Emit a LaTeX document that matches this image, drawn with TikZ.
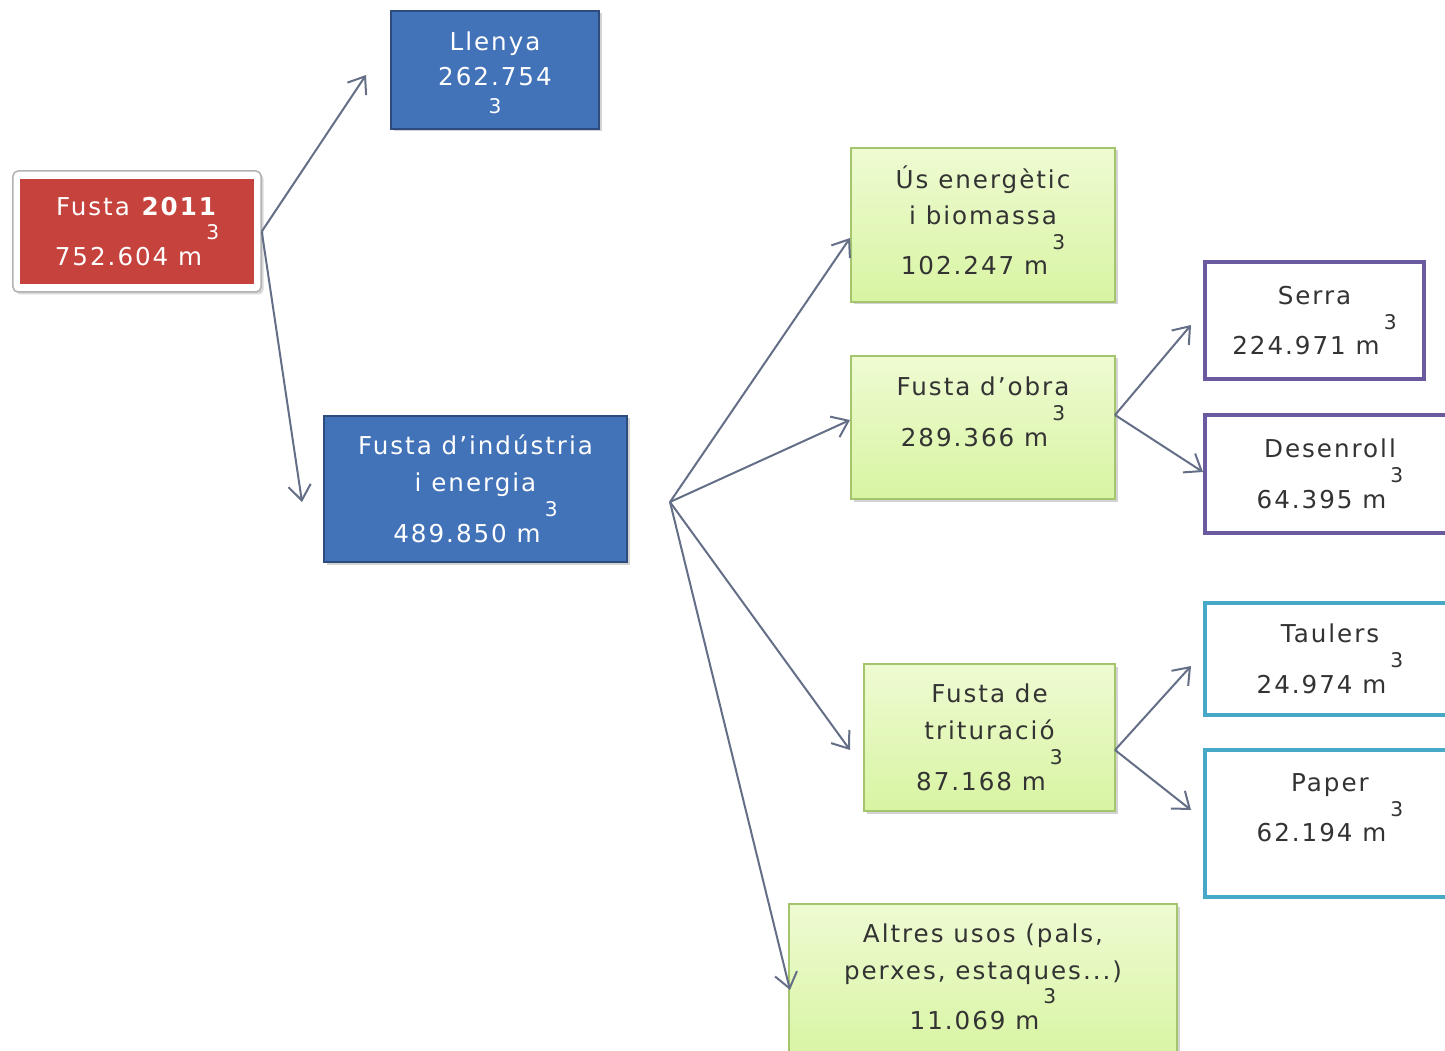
\documentclass[tikz,border=0pt]{standalone}
\usepackage{fontspec}
\setmainfont{DejaVu Sans}[LetterSpace=8]
\usetikzlibrary{arrows.meta,shadows}

\definecolor{woodred}{RGB}{198,66,60}
\definecolor{woodblue}{RGB}{66,114,184}
\definecolor{woodline}{RGB}{45,75,125}
\definecolor{leaftop}{RGB}{238,251,210}
\definecolor{leafbottom}{RGB}{216,244,162}
\definecolor{leafline}{RGB}{165,196,110}
\definecolor{sawpurple}{RGB}{108,90,160}
\definecolor{paperteal}{RGB}{72,168,200}
\definecolor{flowgray}{RGB}{100,110,135}

\newcommand{\cub}{\,\smash{\raisebox{1.05em}{\fontsize{11.5}{12}\selectfont 3}}}

\tikzset{
  box/.style={rectangle, align=center, inner sep=0pt, font=\fontsize{14}{21}\selectfont},
  woodbox/.style={box, fill=woodblue, draw=woodline, line width=0.4mm, text=white,
    drop shadow={shadow xshift=0.5mm, shadow yshift=-0.5mm, opacity=0.35}},
  leafbox/.style={box, top color=leaftop, bottom color=leafbottom, draw=leafline, line width=0.4mm,
    text=black!80, drop shadow={shadow xshift=0.5mm, shadow yshift=-0.5mm, opacity=0.35}},
  outbox/.style={box, fill=white, line width=0.8mm, text=black!80},
  flow/.style={draw=flowgray, line width=0.4mm, -{Straight Barb[length=3mm,width=4.5mm]}},
}

\begin{document}
\begin{tikzpicture}[x=0.2mm,y=-0.2mm]
\useasboundingbox (0,0) rectangle (1445,1051);
\clip (0,0) rectangle (1445,1051);

\node[box, fill=white, draw=black!30, line width=0.3mm, rounded corners=1mm,
  minimum width=49.6mm, minimum height=24.2mm,
  drop shadow={shadow xshift=0.5mm, shadow yshift=-0.5mm, opacity=0.3}] (fustaframe) at (137,231.5) {};
\node[box, fill=woodred, text=white, minimum width=46.6mm, minimum height=21mm] (fusta) at (137,231.5)
  {Fusta \textbf{2011}\\[2.6mm]752.604 m\cub};

\node[woodbox, minimum width=41.6mm, minimum height=23.6mm] (llenya) at (495,70)
  {\mbox{}\\[-2.5mm]Llenya\\[-0.4mm]262.754\\[-1.8mm]{\fontsize{11.5}{12}\selectfont 3}};
\node[woodbox, minimum width=60.6mm, minimum height=29.2mm] (industria) at (475.5,489)
  {Fusta d’indústria\\i energia\\[2.8mm]489.850 m\cub};

\node[leafbox, minimum width=52.8mm, minimum height=30.8mm] (us) at (983,225)
  {Ús energètic\\i biomassa\\[2.6mm]102.247 m\cub\\[-5.4mm]\mbox{}};
\node[leafbox, minimum width=52.8mm, minimum height=28.6mm] (obra) at (983,427.5)
  {Fusta d’obra\\[2.8mm]289.366 m\cub\\[-1mm]\mbox{}};
\node[leafbox, minimum width=50.2mm, minimum height=29.4mm] (tritura) at (989.5,737.5)
  {Fusta de\\trituració\\[2.8mm]87.168 m\cub};
\node[leafbox, minimum width=77.6mm, minimum height=31.2mm] (altres) at (983,982)
  {Altres usos (pals,\\perxes, estaques...)\\[2.6mm]11.069 m\cub\\[-5.4mm]\mbox{}};

\node[outbox, draw=sawpurple, minimum width=43.8mm, minimum height=23.4mm] (serra) at (1314.5,320.5)
  {Serra\\[2.8mm]224.971 m\cub};
\node[outbox, draw=sawpurple, minimum width=50mm, minimum height=23.6mm] (desenroll) at (1330,474)
  {Desenroll\\[2.8mm]64.395 m\cub};
\node[outbox, draw=paperteal, minimum width=50mm, minimum height=22.4mm] (taulers) at (1330,659)
  {Taulers\\[2.8mm]24.974 m\cub};
\node[outbox, draw=paperteal, minimum width=50mm, minimum height=29.4mm] (paper) at (1330,823.5)
  {Paper\\[2.8mm]62.194 m\cub\\[-1mm]\mbox{}};

\coordinate (llenya-in) at (366,75);
\coordinate (industria-in) at (302,502);
\coordinate (fork1) at (670,502);
\coordinate (us-in) at (850,238);
\coordinate (obra-in) at (850,420);
\coordinate (tritura-in) at (850,750);
\coordinate (altres-in) at (790,990);
\coordinate (fork2) at (1115,415);
\coordinate (serra-in) at (1191,325);
\coordinate (desenroll-in) at (1203,472);
\coordinate (fork3) at (1115,750);
\coordinate (taulers-in) at (1191,666);
\coordinate (paper-in) at (1191,810);

\draw[flow] (fustaframe.east) -- (llenya-in);
\draw[flow] (fustaframe.east) -- (industria-in);
\draw[flow] (fork1) -- (us-in);
\draw[flow] (fork1) -- (obra-in);
\draw[flow] (fork1) -- (tritura-in);
\draw[flow] (fork1) -- (altres-in);
\draw[flow] (fork2) -- (serra-in);
\draw[flow] (fork2) -- (desenroll-in);
\draw[flow] (fork3) -- (taulers-in);
\draw[flow] (fork3) -- (paper-in);
\end{tikzpicture}
\end{document}
